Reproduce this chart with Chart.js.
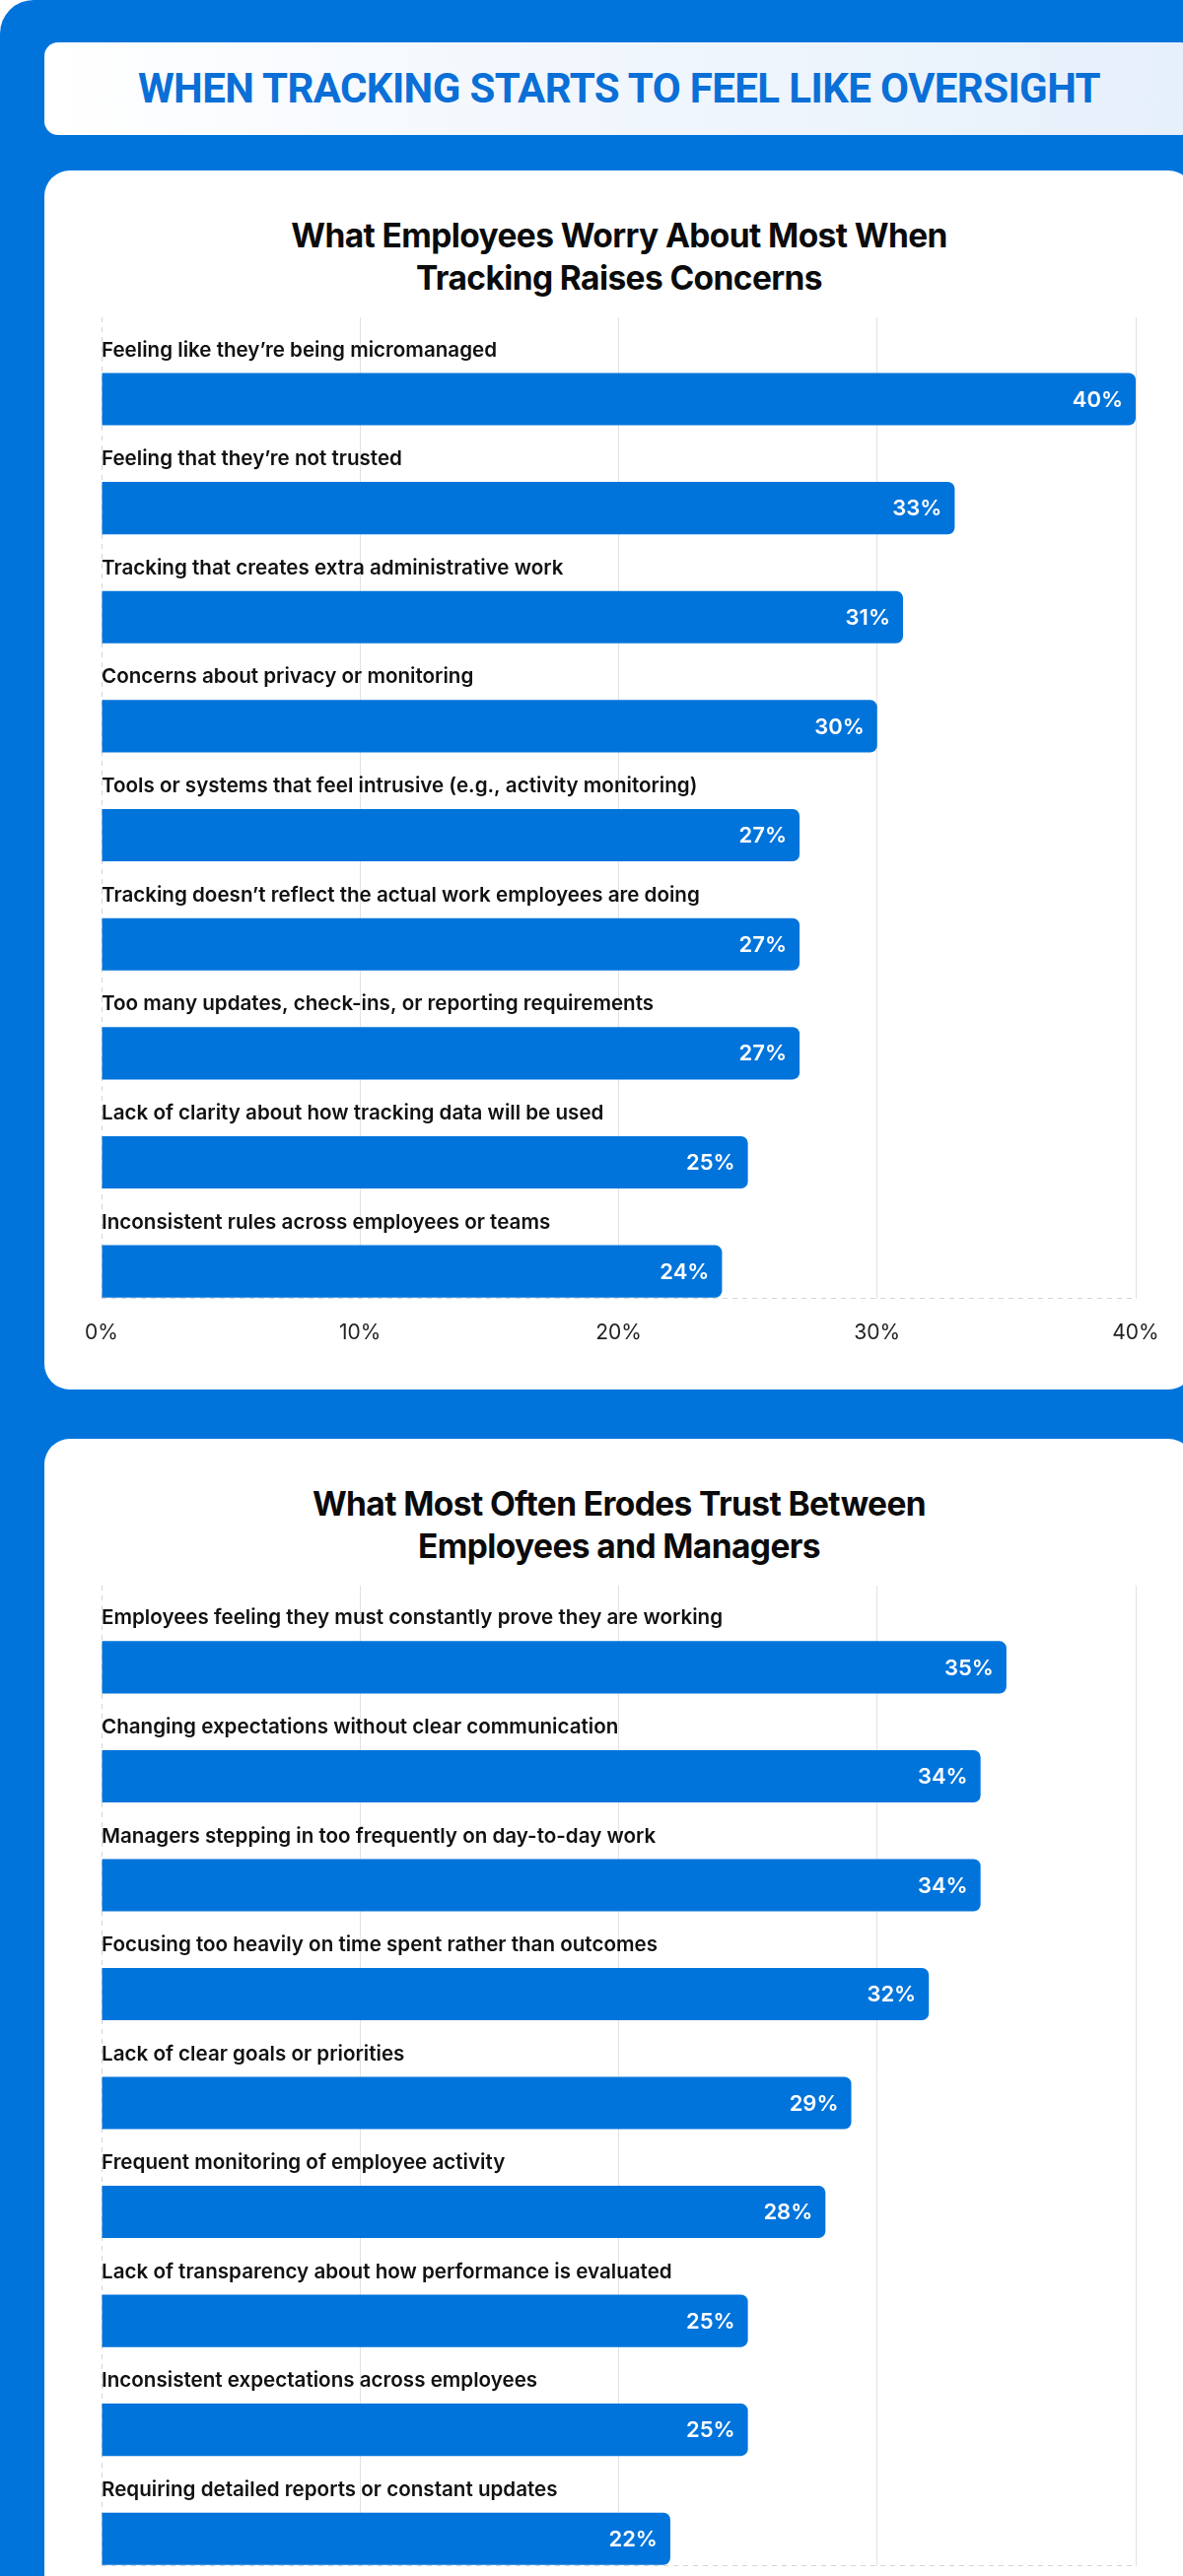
<!DOCTYPE html>
<html>
<head>
<meta charset="utf-8">
<script src="https://cdn.jsdelivr.net/npm/chart.js@4"></script>
<style>
  html, body { margin: 0; padding: 0; background: #fff; }
  body { position: relative; width: 1200px; height: 2614px; overflow: hidden; font-family: Inter, "Noto Sans", sans-serif; }
  #panel { position: absolute; left: 0; top: 0; width: 1260px; height: 2700px; background: #0074db; border-radius: 34px 0 0 0; }
  #header { position: absolute; left: 45px; top: 43px; width: 1166px; height: 94px; border-radius: 14px;
    background: linear-gradient(90deg, #ffffff 0%, #f2f7fd 45%, #e6f0fb 100%); }
  #header h1 { margin: 0; text-align: center; line-height: 94px; font-family: Roboto, sans-serif; font-weight: 700;
    font-size: 42px; color: #0a6fd6; letter-spacing: -0.6px; }
  .card { position: absolute; left: 45px; width: 1166px; background: #fff; border-radius: 26px; }
  #card1 { top: 173px; height: 1237px; }
  #card2 { top: 1460px; height: 1300px; }
  .card h2 { position: absolute; left: 0; right: 0; margin: 0; text-align: center; font-weight: 700; font-size: 33.5px;
    line-height: 43px; color: #0b0b0b; letter-spacing: -0.6px; }
  #card1 h2 { top: 45px; }
  #card2 h2 { top: 45px; }
  .wrap { position: absolute; left: 0; width: 1200px; height: 1100px; }
  #wrap1 { top: 300px; }
  #wrap2 { top: 1588px; }
</style>
</head>
<body>
<div id="panel"></div>
<div id="header"><h1>WHEN TRACKING STARTS TO FEEL LIKE OVERSIGHT</h1></div>
<div class="card" id="card1"><h2>What Employees Worry About Most When<br>Tracking Raises Concerns</h2></div>
<div class="card" id="card2"><h2>What Most Often Erodes Trust Between<br>Employees and Managers</h2></div>
<div class="wrap" id="wrap1"><canvas id="chart1"></canvas></div>
<div class="wrap" id="wrap2"><canvas id="chart2"></canvas></div>

<script>
// categorias e valores
const worryLabels = [
  "Feeling like they\u2019re being micromanaged",
  "Feeling that they\u2019re not trusted",
  "Tracking that creates extra administrative work",
  "Concerns about privacy or monitoring",
  "Tools or systems that feel intrusive (e.g., activity monitoring)",
  "Tracking doesn\u2019t reflect the actual work employees are doing",
  "Too many updates, check-ins, or reporting requirements",
  "Lack of clarity about how tracking data will be used",
  "Inconsistent rules across employees or teams"
];
const worryValues = [40, 33, 31, 30, 27, 27, 27, 25, 24];

const trustLabels = [
  "Employees feeling they must constantly prove they are working",
  "Changing expectations without clear communication",
  "Managers stepping in too frequently on day-to-day work",
  "Focusing too heavily on time spent rather than outcomes",
  "Lack of clear goals or priorities",
  "Frequent monitoring of employee activity",
  "Lack of transparency about how performance is evaluated",
  "Inconsistent expectations across employees",
  "Requiring detailed reports or constant updates"
];
const trustValues = [35, 34, 34, 32, 29, 28, 25, 25, 22];

const axisTicks = [0, 10, 20, 30, 40];

const BLUE = '#0074db';
const LINE = '#d4d4d4';

// rótulos de valor dentro das barras
const valueLabels = {
  id: 'valueLabels',
  afterDatasetsDraw(chart) {
    const ctx = chart.ctx;
    const meta = chart.getDatasetMeta(1);
    const vals = chart.data.datasets[1].data;
    ctx.save();
    ctx.fillStyle = '#ffffff';
    ctx.font = '600 22px Inter, sans-serif';
    ctx.textAlign = 'right';
    ctx.textBaseline = 'middle';
    meta.data.forEach((bar, i) => {
      ctx.fillText(vals[i] + '%', bar.x - 13, bar.y + 1);
    });
    ctx.restore();
  }
};

function makeChart(id, labels, values, pad) {
  const ctx = document.getElementById(id).getContext('2d');
  return new Chart(ctx, {
    type: 'bar',
    data: {
      labels: labels,
      datasets: [
        // espaço vazio acima de cada barra para o rótulo
        { data: labels.map(() => null), backgroundColor: 'transparent' },
        { data: values, backgroundColor: BLUE, borderRadius: 7, borderSkipped: 'start' }
      ]
    },
    options: {
      indexAxis: 'y',
      responsive: true,
      maintainAspectRatio: false,
      animation: false,
      categoryPercentage: 1,
      barPercentage: 0.96,
      layout: { padding: pad },
      plugins: { legend: { display: false }, tooltip: { enabled: false } },
      scales: {
        x: {
          min: axisTicks[0],
          max: axisTicks[axisTicks.length - 1],
          afterBuildTicks: (scale) => { scale.ticks = axisTicks.map(v => ({ value: v })); },
          grid: {
            drawTicks: false,
            color: (c) => c.tick && c.tick.value === 0 ? LINE : '#e2e2e2',
            lineWidth: 1
          },
          // linha do zero tracejada, demais contínuas
          border: { display: false, dash: (c) => c.tick && c.tick.value === 0 ? [5, 5] : [] },
          ticks: {
            padding: 22,
            color: '#222',
            font: { family: 'Inter', size: 21, weight: 400 },
            callback: (v) => v + '%'
          }
        },
        y: {
          // só a linha de baixo, tracejada
          grid: { drawTicks: false, color: (c) => c.tick ? 'rgba(0,0,0,0)' : LINE },
          border: { display: false, dash: [5, 5] },
          ticks: {
            mirror: true,
            padding: 0,
            autoSkip: false,
            labelOffset: -22,
            color: '#111',
            font: { family: 'Inter', size: 20.6, weight: 600 }
          }
        }
      }
    },
    plugins: [valueLabels]
  });
}

makeChart('chart1', worryLabels, worryValues, { left: 103, right: 48, top: 22, bottom: 13 });
makeChart('chart2', trustLabels, trustValues, { left: 103, right: 48, top: 21, bottom: 15 });
</script>
</body>
</html>
